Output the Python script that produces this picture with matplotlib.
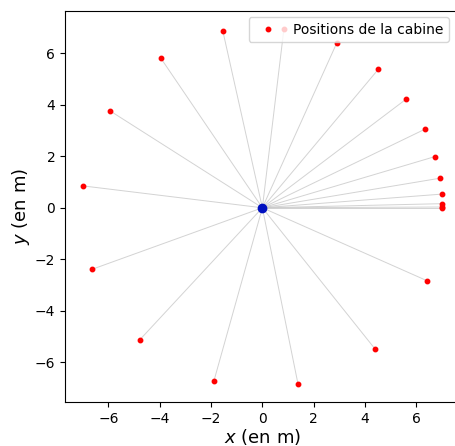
import matplotlib
matplotlib.use("Agg")
import matplotlib.pyplot as plt

# Cabin positions (m)
x_pos = [7.00, 7.00, 7.00, 6.98, 6.93, 6.73, 6.33, 5.59, 4.52, 2.89, 0.84,
         -1.54, -3.95, -5.93, -6.99, -6.64, -4.78, -1.89, 1.39, 4.38, 6.41]
y_pos = [0.00, 0.03, 0.16, 0.53, 1.15, 1.99, 3.05, 4.21, 5.38, 6.38, 6.95,
         6.86, 5.80, 3.76, 0.85, -2.39, -5.13, -6.73, -6.85, -5.47, -2.83]
center_x = [0.0]
center_y = [0.0]
legend_label = "Positions de la cabine"

fig = plt.figure(figsize=(4.56, 4.46), dpi=100)
ax = fig.add_axes([65/456, 44/446, 395/456, 391/446])

for xi, yi in zip(x_pos, y_pos):
    ax.plot([center_x[0], xi], [center_y[0], yi], color="#c8c8c8", lw=0.7, alpha=0.8, zorder=1)

ax.plot(x_pos, y_pos, "o", color="red", ms=3.2, ls="none", zorder=3, label=legend_label)
ax.plot(center_x, center_y, "o", color="#0010c0", ms=6, zorder=4)

ax.tick_params(labelsize=10)
ax.set_xlabel("$x$ (en m)", fontsize=13, labelpad=1)
ax.set_ylabel("$y$ (en m)", fontsize=13, labelpad=2)

ax.legend(loc="upper right", fontsize=10, borderaxespad=0,
          bbox_to_anchor=(449/456, 1 - 17/446), bbox_transform=fig.transFigure)

fig.savefig("out.png", dpi=100)
